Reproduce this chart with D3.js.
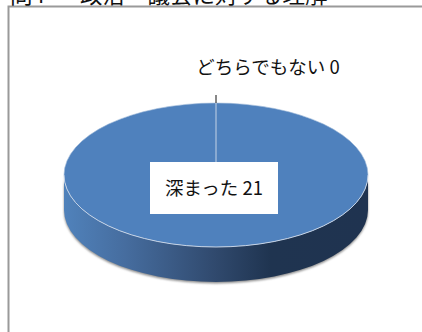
<!DOCTYPE html>
<html><head><meta charset="utf-8">
<script src="https://cdn.jsdelivr.net/npm/d3@7"></script>
<style>html,body{margin:0;padding:0;background:#fff}svg{display:block}
text{font-family:"Noto Sans CJK JP",sans-serif;fill:#111}</style></head>
<body><div id="chart"></div>
<script>
const categories = ["深まった", "どちらでもない"];
const counts = [21, 0];
const titleParts = [["問4", 10], ["政治・議会に対する理解", 80]];

const W = 422, H = 332;
const cx = 216, cy = 175, rx = 152, ry = 72, depth = 35;

const svg = d3.select("#chart").append("svg").attr("width", W).attr("height", H);
const defs = svg.append("defs");

const grad = defs.append("linearGradient").attr("id", "wall")
  .attr("gradientUnits", "userSpaceOnUse")
  .attr("x1", cx - rx).attr("x2", cx + rx).attr("y1", 0).attr("y2", 0);
[[0, "#5082bb"], [0.2, "#466d9f"], [0.5, "#30496d"], [0.68, "#1f3450"], [1, "#1f3350"]]
  .forEach(([o, c]) => grad.append("stop").attr("offset", o).attr("stop-color", c));
defs.append("filter").attr("id", "soft").append("feGaussianBlur").attr("stdDeviation", 1.2);

// Chart frame, open on the right and bottom where the sheet crops it
svg.append("path").attr("d", `M8.5,${H} V6.5 H${W}`)
  .attr("fill", "none").attr("stroke", "#9a9a9a").attr("stroke-width", 2);

titleParts.forEach(([t, x]) => svg.append("text").attr("x", x).attr("y", 3)
  .attr("font-size", 22.5).text(t));

const pie = d3.pie().sort(null).startAngle(0).endAngle(2 * Math.PI);
const arcs = pie(counts);
const arc = d3.arc().innerRadius(0).outerRadius(1);

// Point on the rim of the flattened disc; pie angle 0 is straight up
const rim = a => [cx + rx * Math.sin(a), cy - ry * Math.cos(a)];

// Front wall of the disc, visible for the lower half of the ellipse
const wallPath = `M${cx - rx},${cy} A${rx},${ry} 0 0 0 ${cx + rx},${cy}` +
  ` V${cy + depth} A${rx},${ry} 0 0 1 ${cx - rx},${cy + depth} Z`;

svg.append("path").attr("d", wallPath)
  .attr("transform", "translate(0,1.5)")
  .attr("fill", "#8c8c8c").attr("filter", "url(#soft)");
svg.append("path").attr("d", wallPath).attr("fill", "url(#wall)");

const face = svg.append("g").attr("transform", `translate(${cx},${cy}) scale(${rx},${ry})`);
face.selectAll("path").data(arcs.filter(d => d.value > 0)).join("path")
  .attr("d", arc).attr("fill", "#4f81bd");

// Light rim along the front edge of the top face
svg.append("path").attr("d", `M${cx - rx},${cy} A${rx},${ry} 0 0 0 ${cx + rx},${cy}`)
  .attr("fill", "none").attr("stroke", "#c5d3e6").attr("stroke-width", 1);
svg.append("path").attr("d", `M${cx - rx},${cy} A${rx},${ry} 0 0 1 ${cx + rx},${cy}`)
  .attr("fill", "none").attr("stroke", "#9db8d8").attr("stroke-width", 0.6);

// Slice boundary: the empty slice collapses to a single radius at the top
const zero = arcs[1];
const [bx, by] = rim(zero.startAngle % (2 * Math.PI));
svg.append("line").attr("x1", cx).attr("y1", cy).attr("x2", bx).attr("y2", by)
  .attr("stroke", "#c5d3e6").attr("stroke-width", 1);
svg.append("line").attr("x1", bx).attr("y1", by).attr("x2", bx).attr("y2", by - 8)
  .attr("stroke", "#111").attr("stroke-width", 1);

// Data labels
svg.append("rect").attr("x", 150).attr("y", 162).attr("width", 128).attr("height", 52).attr("fill", "#fff");
svg.append("text").attr("x", 214).attr("y", 195).attr("text-anchor", "middle").attr("font-size", 18.5)
  .text(`${categories[0]} ${counts[0]}`);
svg.append("text").attr("x", 268).attr("y", 74).attr("text-anchor", "middle").attr("font-size", 18.5)
  .text(`${categories[1]} ${counts[1]}`);
</script></body></html>
